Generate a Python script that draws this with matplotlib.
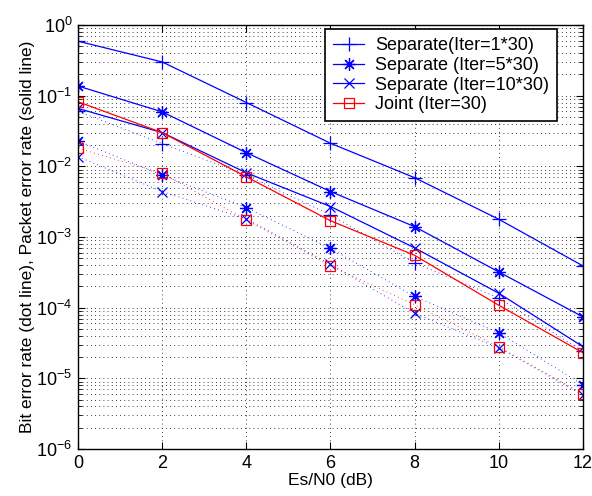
import matplotlib
matplotlib.use("Agg")
import matplotlib.pyplot as plt
from matplotlib.ticker import LogLocator, LogFormatterSciNotation, NullFormatter, MultipleLocator

plt.rcParams['font.family'] = ['Liberation Sans', 'DejaVu Sans']
plt.rcParams['mathtext.fontset'] = 'custom'
plt.rcParams['mathtext.rm'] = 'Liberation Sans'
plt.rcParams['mathtext.default'] = 'regular'

snr = [0, 2, 4, 6, 8, 10, 12]

labels = ["Separate(Iter=1*30)", "Separate (Iter=5*30)",
          "Separate (Iter=10*30)", "Joint (Iter=30)"]

per_iter1 = [0.59, 0.30, 0.080, 0.0212, 0.0069, 0.00178, 3.9e-4]
per_iter5 = [0.137, 0.059, 0.0156, 0.0044, 0.0014, 3.2e-4, 7.4e-5]
per_iter10 = [0.066, 0.030, 0.0081, 0.0027, 7.0e-4, 1.6e-4, 2.8e-5]
per_joint = [0.082, 0.030, 0.0071, 0.0017, 5.5e-4, 1.08e-4, 2.3e-5]

ber_iter1 = [0.060, 0.021, 0.0075, 0.00205, 4.3e-4, 1.37e-4, 2.4e-5]
ber_iter5 = [0.0228, 0.0075, 0.0026, 6.9e-4, 1.44e-4, 4.4e-5, 8.1e-6]
ber_iter10 = [0.0137, 0.0044, 0.0018, 4.1e-4, 8.3e-5, 2.7e-5, 5.8e-6]
ber_joint = [0.018, 0.0080, 0.00174, 3.9e-4, 1.1e-4, 2.8e-5, 6.0e-6]

pers = [per_iter1, per_iter5, per_iter10, per_joint]
bers = [ber_iter1, ber_iter5, ber_iter10, ber_joint]
colors = ['#0000ff', '#0000ff', '#0000ff', '#ff0000']
markers = ['+', (8, 2, 0), 'x', 's']
msizes = [10, 9, 7, 7]

fig = plt.figure(figsize=(5.92, 4.96), dpi=100)
ax = fig.add_axes([78/592, 1-449/496, (583-78)/592, (449-25)/496])

handles = []
for per, ber, c, m, ms, lab in zip(pers, bers, colors, markers, msizes, labels):
    mfc = 'none' if m == 's' else c
    h, = ax.semilogy(snr, per, '-', color=c, marker=m, ms=ms, mfc=mfc,
                     mec=c, lw=0.9, mew=0.9, label=lab)
    ax.semilogy(snr, ber, linestyle=(0, (1, 4)), color=c, marker=m, ms=ms,
                mfc=mfc, mec=c, lw=0.6, mew=0.9)
    handles.append(h)

ax.set_xlim(0, 12)
ax.set_ylim(1e-6, 1)
ax.xaxis.set_major_locator(MultipleLocator(2))
ax.yaxis.set_major_locator(LogLocator(base=10, numticks=10))
ax.yaxis.set_minor_locator(LogLocator(base=10, subs=range(2, 10), numticks=20))
ax.yaxis.set_major_formatter(LogFormatterSciNotation())
ax.yaxis.set_minor_formatter(NullFormatter())

ax.tick_params(which='both', direction='in', top=True, right=True, labelsize=13)
ax.tick_params(which='major', length=5, width=0.8, pad=4)
ax.tick_params(which='minor', length=3, width=0.6)

ax.grid(True, which='major', linestyle=(0, (1, 4)), color='k', linewidth=0.6)
ax.grid(True, which='minor', axis='y', linestyle=(0, (1, 4)), color='k', linewidth=0.6)
ax.set_axisbelow(True)

for s in ax.spines.values():
    s.set_linewidth(1.0)

ax.set_xlabel("Es/N0 (dB)", fontsize=12.5, labelpad=1)
ax.set_ylabel("Bit error rate (dot line), Packet error rate (solid line)",
              fontsize=12.5, labelpad=1)

leg = ax.legend(handles=handles, loc='upper right',
                bbox_to_anchor=((557-78)/505, (449-29)/424),
                fontsize=13, frameon=True,
                fancybox=False, edgecolor='k', framealpha=1, handlelength=1.7,
                labelspacing=0.15, borderpad=0.45, handletextpad=0.6,
                borderaxespad=0.0)
leg.get_frame().set_linewidth(1.2)

fig.savefig("out.png", dpi=100)
